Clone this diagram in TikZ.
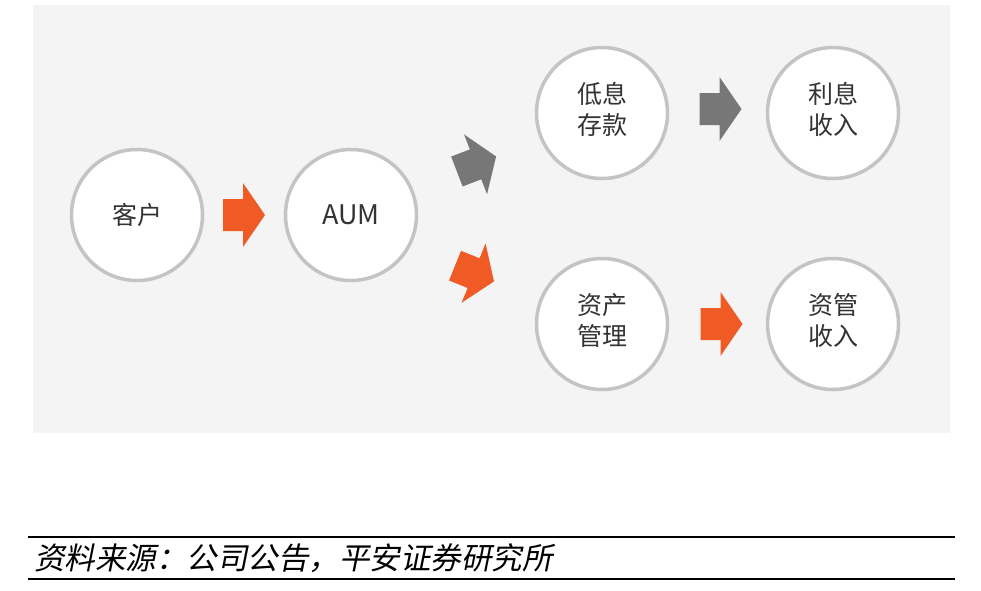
\documentclass[tikz,border=0pt]{standalone}
\usepackage{fontspec}
\setmainfont{Noto Sans CJK SC}
\newfontfamily\cjkslant[FakeSlant=0.2]{Noto Sans CJK SC}
\usetikzlibrary{calc}
\definecolor{panelC}{HTML}{F4F4F4}
\definecolor{ringC}{HTML}{C4C4C4}
\definecolor{orangeC}{HTML}{F05A24}
\definecolor{grayA}{HTML}{777777}
\definecolor{textC}{HTML}{333333}
\newcommand\twoline[2]{\raisebox{3.5pt}{\begin{tabular}{@{}c@{}}#1\\#2\end{tabular}}}
\tikzset{
  bubble/.style={circle, draw=ringC, line width=3.5pt, fill=white,
    minimum size=131pt, inner sep=0pt, text=textC,
    font=\fontsize{25}{31}\selectfont, align=center},
  blockarr/.pic={\fill (-21,-16) -- (-1,-16) -- (-1,-32) -- (21,0) -- (-1,32) -- (-1,16) -- (-21,16) -- cycle;},
  rulebar/.style={line width=2.8pt, black}
}
\begin{document}
\begin{tikzpicture}[x=1pt, y=-1pt]
\useasboundingbox (0,0) rectangle (981,590);
\fill[panelC] (33,5) rectangle (950,433);
\node[bubble] (kehu) at (137,215) {客户};
\node[bubble, font=\fontsize{27}{31}\selectfont] (aum) at (351,215) {AUM};
\node[bubble] (dixi) at (602,113) {\twoline{低息}{存款}};
\node[bubble] (lixi) at (833,113) {\twoline{利息}{收入}};
\node[bubble] (zichan) at (602,324) {\twoline{资产}{管理}};
\node[bubble] (ziguan) at (833,324) {\twoline{资管}{收入}};
\pic[color=orangeC] at ($(kehu)!0.5!(aum)$) {blockarr};
\pic[color=grayA, rotate=21] at ($(aum)!0.5!(dixi)$) {blockarr};
\pic[color=orangeC, rotate=-22] at ($(aum)!0.5!(zichan)+(-2,4)$) {blockarr};
\pic[color=grayA] at ($(dixi)!0.5!(lixi)+(3,-4)$) {blockarr};
\pic[color=orangeC] at ($(zichan)!0.5!(ziguan)+(4,0)$) {blockarr};
\coordinate (l1a) at (28,537);
\coordinate (l1b) at (955,537);
\coordinate (l2a) at (28,579);
\coordinate (l2b) at (955,579);
\draw[rulebar] (l1a) -- (l1b);
\draw[rulebar] (l2a) -- (l2b);
\node[anchor=west, inner sep=0pt, font=\cjkslant\fontsize{30.5}{33}\selectfont, text=black] (src) at (34,558) {资料来源：公司公告，平安证券研究所};
\end{tikzpicture}
\end{document}
